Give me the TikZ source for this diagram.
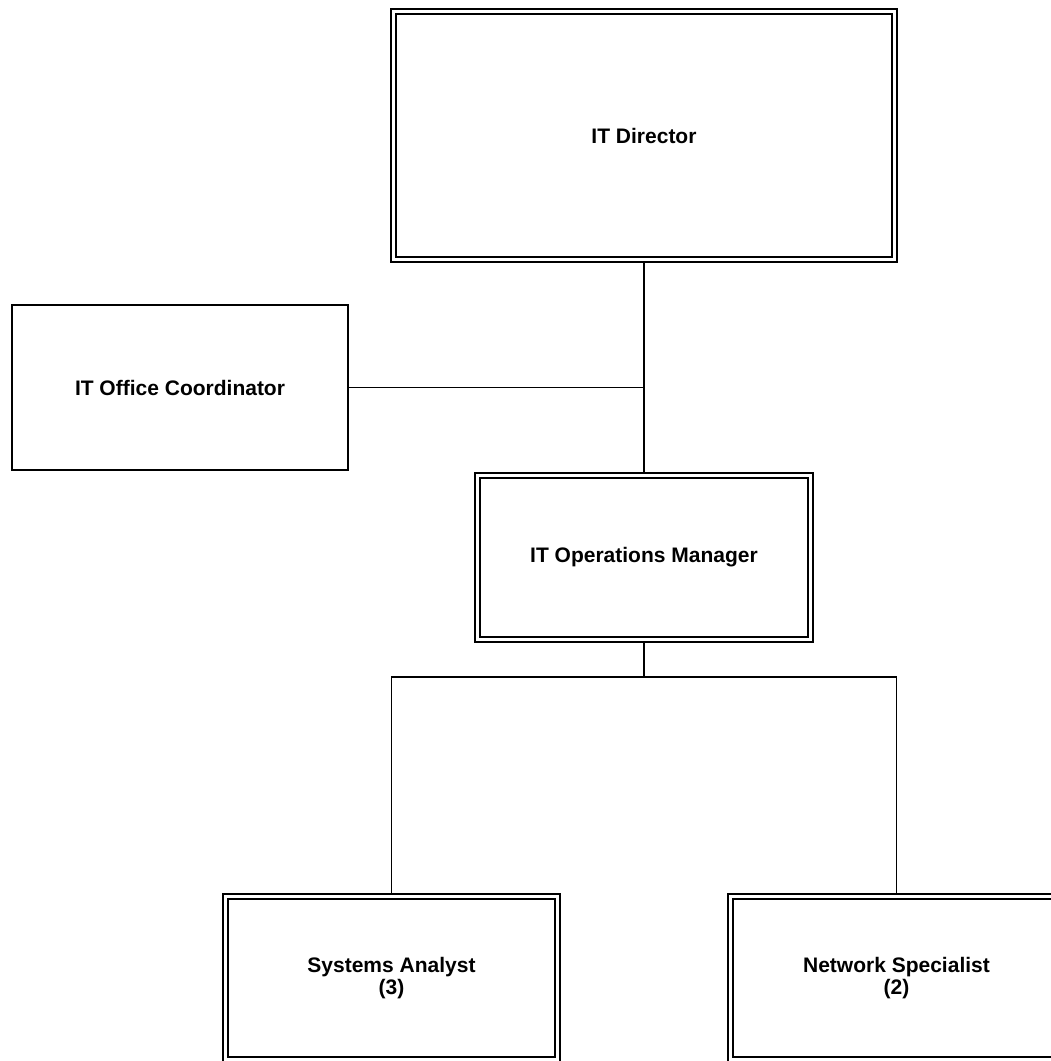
\documentclass[tikz,border=0pt]{standalone}
\usepackage{fontspec}
\setmainfont{Liberation Sans}
\usetikzlibrary{positioning,calc}

\begin{document}
\begin{tikzpicture}[x=1pt,y=-1pt,
    post/.style={draw, double, line width=1.5pt, double distance=3.5pt,
        outer sep=3.25pt, inner sep=0pt, align=center,
        font=\fontsize{21}{22}\selectfont\bfseries},
    plainpost/.style={draw, line width=1.8pt, outer sep=0.9pt, inner sep=0pt,
        align=center, font=\fontsize{21}{22}\selectfont\bfseries},
    link/.style={line width=1.1pt}]
    \useasboundingbox (0,0) rectangle (1051,1061);
    \clip (0,0) rectangle (1051,1061);

    % Top level
    \node[post, minimum width=501pt, minimum height=248pt] (dir) at (644,135.5) {IT Director};

    % Staff post on the side
    \node[plainpost, minimum width=336pt, minimum height=165pt] (coord) at (180,387.5) {IT Office Coordinator};

    % Middle level
    \node[post, minimum width=333pt, minimum height=164pt] (ops) at (644,557.5) {IT Operations Manager};

    % Bottom level
    \node[post, minimum width=332pt, minimum height=163pt] (sa) at (391.5,978) {Systems Analyst\\(3)};
    \node[post, minimum width=332pt, minimum height=163pt] (ns) at (896.5,978) {Network Specialist\\(2)};

    % Connectors
    \coordinate (bus) at (644,677);
    \draw[link] (dir.south) -- (ops.north);
    \draw[link] (coord.east) -- (coord.east -| ops.north);
    \draw[link] (ops.south) -- (bus);
    \draw[link] (sa.north) -- (sa.north |- bus) -- (ns.north |- bus) -- (ns.north);
\end{tikzpicture}
\end{document}
